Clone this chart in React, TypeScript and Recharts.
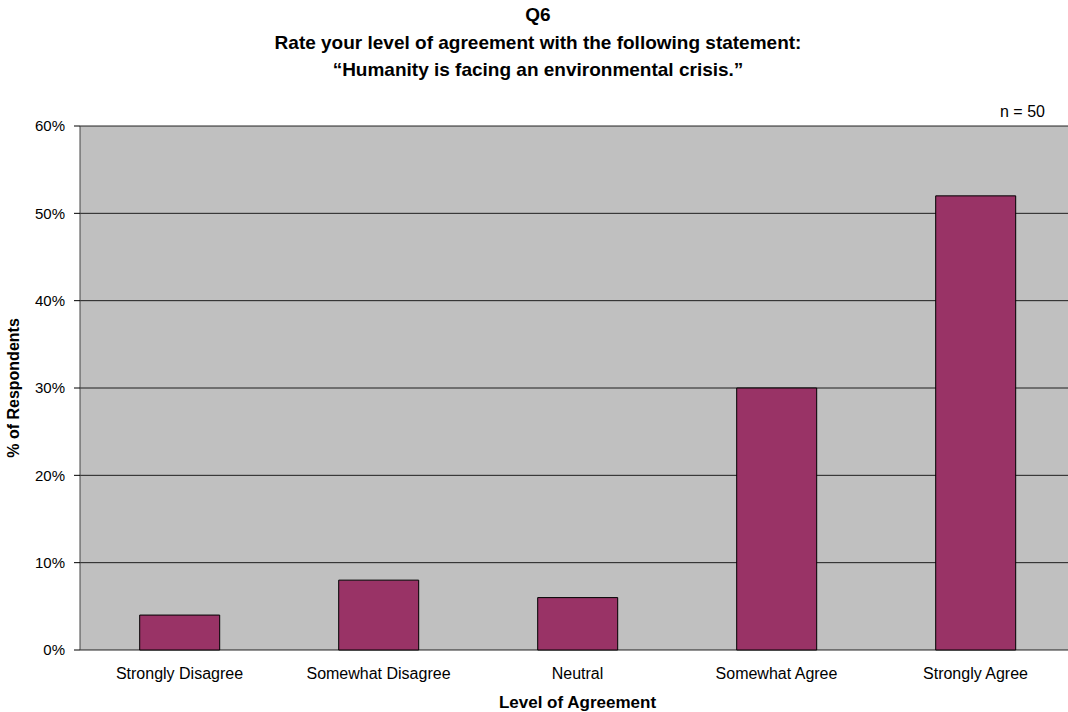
import { Bar, BarChart, CartesianGrid, XAxis, YAxis } from "recharts";

const levels = ["Strongly Disagree", "Somewhat Disagree", "Neutral", "Somewhat Agree", "Strongly Agree"];
const respondents = [4, 8, 6, 30, 52];
const pctTicks = [0, 10, 20, 30, 40, 50, 60];
const edgeTicks = [0, 1, 2, 3, 4, 5];

const data = levels.map((level, i) => ({ level, pct: respondents[i] }));

const font = "'Liberation Sans', Arial, sans-serif";

export default function App() {
  return (
    <div
      style={{
        position: "absolute",
        left: 0,
        top: 0,
        width: 1068,
        height: 712,
        overflow: "hidden",
        background: "#fff",
        fontFamily: font,
      }}
    >
      <div
        style={{
          position: "absolute",
          left: 0,
          top: 1,
          width: 1076,
          textAlign: "center",
          fontWeight: "bold",
          fontSize: 19,
          lineHeight: "27.5px",
          color: "#000",
        }}
      >
        <div>Q6</div>
        <div>Rate your level of agreement with the following statement:</div>
        <div>“Humanity is facing an environmental crisis.”</div>
      </div>
      <div style={{ position: "absolute", left: 1000, top: 103, fontSize: 16, color: "#000" }}>n = 50</div>
      <BarChart
        width={1090}
        height={712}
        data={data}
        margin={{ top: 126, right: 15, left: 0, bottom: 0 }}
        barCategoryGap="30%"
      >
        <CartesianGrid vertical={false} fill="#C0C0C0" stroke="#000" strokeOpacity={0.85} />
        <XAxis
          xAxisId="edges"
          type="number"
          domain={[0, 5]}
          ticks={edgeTicks}
          allowDataOverflow
          height={0}
          tick={() => <g />}
          axisLine={{ stroke: "#444" }}
          tickLine={{ stroke: "#444" }}
          tickSize={6}
        />
        <XAxis
          xAxisId="cat"
          dataKey="level"
          height={62}
          axisLine={false}
          tickLine={false}
          tickMargin={12}
          tick={{ fill: "#000", fontSize: 16, fontFamily: font }}
          label={{
            value: "Level of Agreement",
            position: "insideBottom",
            offset: 4,
            fill: "#000",
            fontSize: 17,
            fontWeight: "bold",
            fontFamily: font,
          }}
        />
        <YAxis
          width={80}
          domain={[0, 60]}
          ticks={pctTicks}
          interval={0}
          tickFormatter={(v) => `${v}%`}
          axisLine={{ stroke: "#444" }}
          tickLine={{ stroke: "#000" }}
          tickSize={6}
          tickMargin={9}
          tick={{ fill: "#000", fontSize: 15, fontFamily: font }}
          label={{
            value: "% of Respondents",
            angle: -90,
            position: "insideLeft",
            offset: 13,
            fill: "#000",
            fontSize: 16,
            fontWeight: "bold",
            fontFamily: font,
            style: { textAnchor: "middle" },
          }}
        />
        <Bar
          xAxisId="cat"
          dataKey="pct"
          fill="#993366"
          stroke="#000"
          strokeWidth={1}
          isAnimationActive={false}
        />
      </BarChart>
    </div>
  );
}
